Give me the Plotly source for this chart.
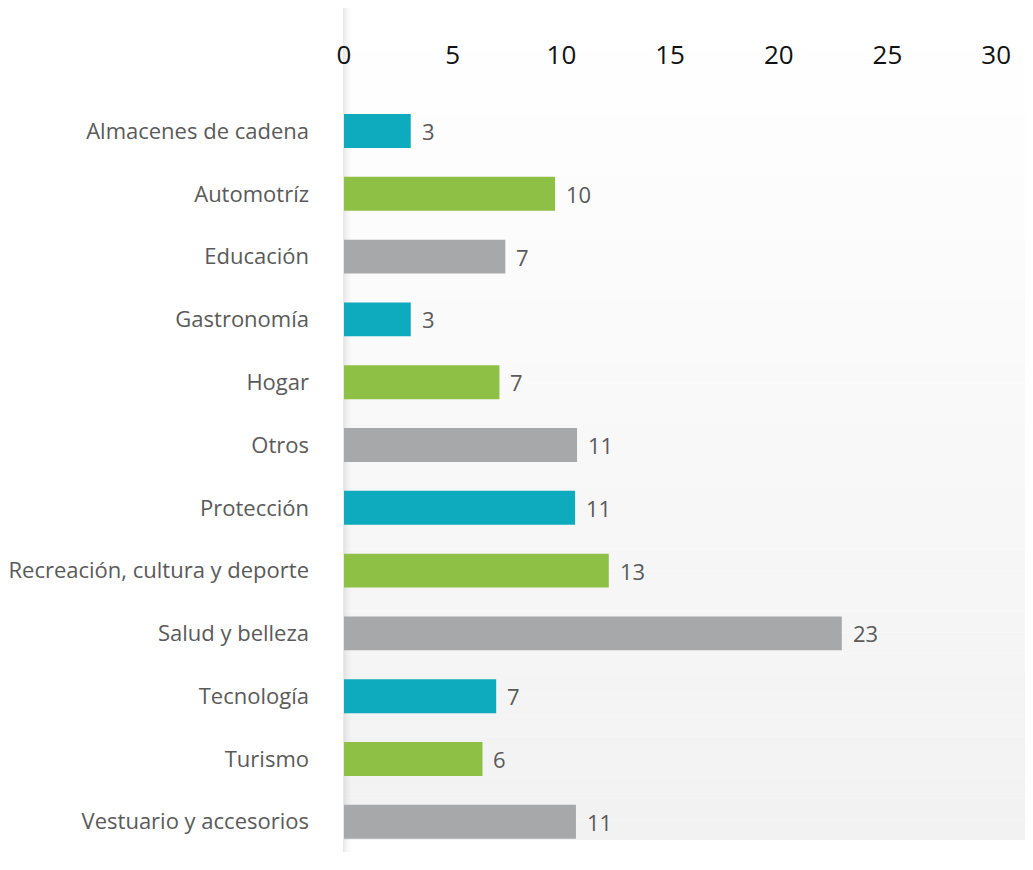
import plotly.graph_objects as go

categories = ["Almacenes de cadena", "Automotríz", "Educación", "Gastronomía", "Hogar",
              "Otros", "Protección", "Recreación, cultura y deporte", "Salud y belleza",
              "Tecnología", "Turismo", "Vestuario y accesorios"]
values = [3.07, 9.71, 7.42, 3.07, 7.15, 10.72, 10.63, 12.18, 22.9, 7.0, 6.37, 10.67]
value_labels = ["3", "10", "7", "3", "7", "11", "11", "13", "23", "7", "6", "11"]
bar_colors = ["#0eaabd", "#8dc045", "#a7a8aa"] * 4
x_ticks = [0, 5, 10, 15, 20, 25, 30]

# page body has an 8px margin; screen positions below are converted to figure positions
O = 8
W, H = 1045, 844
L, R, T = 342 - O, 0, 100 - O
B = H - (840 - O)
pw, ph = W - L - R, H - T - B

def px_x(p):  # screen px -> paper
    return (p - O - L) / pw

def px_y(p):
    return (H - B - (p - O)) / ph

font_family = "Open Sans, Noto Sans, sans-serif"

fig = go.Figure()
fig.add_trace(go.Bar(
    y=categories, x=values, orientation="h",
    marker=dict(color=bar_colors, line=dict(width=0)),
    width=0.54, hoverinfo="skip",
))

shapes = []
top_px, bot_px = 10, 840
n = 40
for i in range(n):
    y0 = top_px + (bot_px - top_px) * i / n
    y1 = top_px + (bot_px - top_px) * (i + 1) / n
    c = round(255 - 13 * (i + 0.5) / n)
    shapes.append(dict(type="rect", xref="paper", yref="paper", layer="below",
                       x0=px_x(342), x1=1, y0=px_y(y1), y1=px_y(y0),
                       fillcolor=f"rgb({c},{c},{c})", line=dict(width=0)))
alphas = [0.09, 0.075, 0.06, 0.047, 0.036, 0.027, 0.019, 0.012, 0.007, 0.003]
for k, a in enumerate(alphas):
    shapes.append(dict(type="rect", xref="paper", yref="paper", layer="below",
                       x0=px_x(341 + k), x1=px_x(342 + k), y0=px_y(870), y1=px_y(8),
                       fillcolor=f"rgba(0,0,0,{a})", line=dict(width=0)))

annotations = []
for cat, v, lab in zip(categories, values, value_labels):
    annotations.append(dict(x=v, y=cat, xref="x", yref="y", text=lab, showarrow=False,
                            xanchor="left", yanchor="middle", xshift=9,
                            font=dict(family=font_family, size=22, color="#5a5a5a")))

fig.update_layout(
    width=W, height=H,
    margin=dict(l=L, r=R, t=T, b=B, pad=0),
    paper_bgcolor="white", plot_bgcolor="rgba(0,0,0,0)",
    showlegend=False,
    shapes=shapes, annotations=annotations,
    xaxis=dict(side="top", range=[0, pw / 21.8], tickvals=x_ticks,
               showgrid=False, zeroline=False, showline=False, ticks="",
               ticklabelstandoff=30,
               tickfont=dict(family=font_family, size=26, color="#111111")),
    yaxis=dict(categoryorder="array", categoryarray=categories,
               range=[11.29, -0.494], showgrid=False, zeroline=False, showline=False,
               ticks="", ticklabelstandoff=34,
               tickfont=dict(family=font_family, size=22, color="#5a5a5a")),
)

fig.write_html("out.html")
